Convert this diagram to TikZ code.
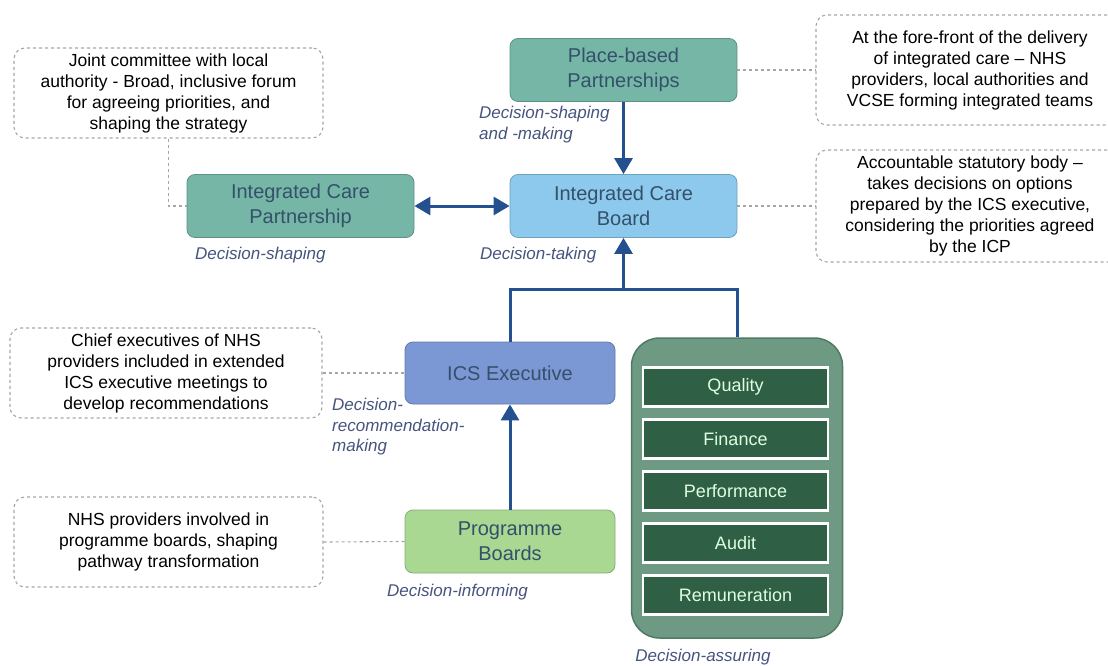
\documentclass[tikz,border=0pt]{standalone}
\usepackage{fontspec}
\setmainfont{Liberation Sans}
\usetikzlibrary{arrows.meta}

\definecolor{tealbox}{HTML}{76B6A7}
\definecolor{bluebox}{HTML}{8CC9EC}
\definecolor{execbox}{HTML}{7B98D4}
\definecolor{greenbox}{HTML}{A8D892}
\definecolor{boxtext}{HTML}{34506A}
\definecolor{assurefill}{HTML}{6E9A84}
\definecolor{assureline}{HTML}{4F7A64}
\definecolor{subgreen}{HTML}{2F5F45}
\definecolor{arrowblue}{HTML}{24508F}
\definecolor{lblblue}{HTML}{46547E}
\definecolor{notegray}{HTML}{A6A6A6}

\begin{document}
\begin{tikzpicture}[x=1pt, y=-1pt,
    box/.style={draw=#1!80!black, fill=#1, line width=0.8pt, rounded corners=8pt,
        minimum width=227pt, minimum height=63pt, align=center, text=boxtext,
        font=\fontsize{20}{25}\selectfont},
    notebox/.style={draw=notegray, dashed, dash pattern=on 3pt off 3pt, line width=1.1pt,
        fill=white, rounded corners=11pt, minimum width=309pt, minimum height=90pt,
        align=center, text=black, font=\fontsize{17.5}{21}\selectfont},
    lbl/.style={text=lblblue, align=left, inner sep=0pt, font=\fontsize{17}{20.5}\selectfont\itshape},
    subbox/.style={draw=white, fill=subgreen, line width=2.5pt, minimum width=185pt,
        minimum height=39pt, text=white!88!green, font=\fontsize{18}{22}\selectfont},
    arr/.style={draw=arrowblue, line width=3pt, -{Triangle[length=16pt,width=18pt]}},
    tie/.style={draw=notegray, dashed, dash pattern=on 3pt off 3pt, line width=1.1pt}]
    \useasboundingbox (0,0) rectangle (1108,666);

    % main bodies
    \node[box=tealbox] (pbp) at (623.5,70) {Place-based\\Partnerships};
    \node[box=bluebox] (icb) at (623.5,206) {Integrated Care\\Board};
    \node[box=tealbox] (icp) at (300.5,206) {Integrated Care\\Partnership};
    \node[box=execbox, minimum width=210pt, minimum height=62pt] (ics) at (510,373) {ICS Executive};
    \node[box=greenbox, minimum width=210pt] (prog) at (510,541.5) {Programme\\Boards};

    % committees
    \node[draw=assureline, fill=assurefill, line width=1.5pt, rounded corners=28pt,
        minimum width=211pt, minimum height=300pt] (assure) at (737,488) {};
    \foreach \name [count=\i] in {Quality,Finance,Performance,Audit,Remuneration}
        \node[subbox] (sub\i) at (735.5,335+52*\i) {\name};

    % notes
    \node[notebox] (icpnote) at (168.5,93) {Joint committee with local\\authority - Broad, inclusive forum\\for agreeing priorities, and\\shaping the strategy};
    \node[notebox, minimum width=308pt, minimum height=110pt] (pbpnote) at (970,70) {At the fore-front of the delivery\\of integrated care -- NHS\\providers, local authorities and\\VCSE forming integrated teams};
    \node[notebox, minimum width=308pt, minimum height=112pt] (icbnote) at (970,206) {Accountable statutory body --\\takes decisions on options\\prepared by the ICS executive,\\considering the priorities agreed\\by the ICP};
    \node[notebox, minimum width=312pt] (icsnote) at (166,373) {Chief executives of NHS\\providers included in extended\\ICS executive meetings to\\develop recommendations};
    \node[notebox] (prognote) at (168.5,542) {NHS providers involved in\\programme boards, shaping\\pathway transformation};

    % labels
    \node[lbl, anchor=north west] (lpbp) at (479,106) {Decision-shaping\\and -making};
    \node[lbl, anchor=west] (licp) at (195,255) {Decision-shaping};
    \node[lbl, anchor=west] (licb) at (480,255) {Decision-taking};
    \node[lbl, anchor=north west] (lics) at (332,398) {Decision-\\recommendation-\\making};
    \node[lbl, anchor=west] (lprog) at (387,592) {Decision-informing};
    \node[lbl] (lassure) at (703,657) {Decision-assuring};

    % dashed ties
    \draw[tie] (icpnote.south) |- (icp.west);
    \draw[tie] (pbp.east) -- (pbpnote.west);
    \draw[tie] (icb.east) -- (icbnote.west);
    \draw[tie] (icsnote.east) -- (ics.west);
    \draw[tie] (prognote.east) -- (prog.west);

    % arrows
    \coordinate (join) at (623.5,289);
    \draw[arr] (pbp.south) -- (icb.north);
    \draw[arr, {Triangle[length=16pt,width=18pt]}-{Triangle[length=16pt,width=18pt]}] (icp.east) -- (icb.west);
    \draw[draw=arrowblue, line width=3pt] (ics.north) |- (join) -| (assure.north);
    \draw[arr] (join) -- (icb.south);
    \draw[arr] (prog.north) -- (ics.south);
\end{tikzpicture}
\end{document}
